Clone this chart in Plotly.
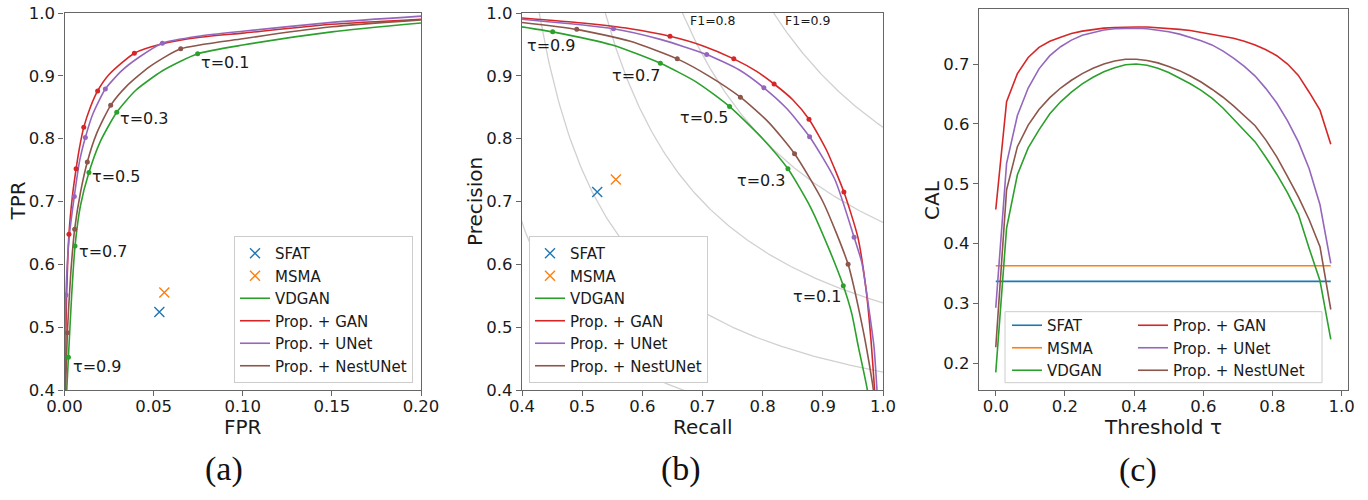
import plotly.graph_objects as go

W, H = 1368, 500

C_SFAT = "#1f77b4"
C_MSMA = "#ff7f0e"
C_VDGAN = "#2ca02c"
C_GAN = "#d62728"
C_UNET = "#9467bd"
C_NEST = "#8c564b"

names = ["SFAT", "MSMA", "VDGAN", "Prop. + GAN", "Prop. + UNet", "Prop. + NestUNet"]

# ---------------- (a) ROC ----------------
roc_gan_fpr = [0, 0.0010, 0.0025, 0.0045, 0.0065, 0.0085, 0.0108, 0.0145, 0.0186, 0.025, 0.0392, 0.055, 0.075, 0.10, 0.15, 0.20]
roc_gan_tpr = [0.36, 0.53, 0.648, 0.71, 0.752, 0.787, 0.818, 0.850, 0.876, 0.902, 0.936, 0.951, 0.961, 0.968, 0.982, 0.990]
roc_unet_fpr = [0, 0.0008, 0.0025, 0.0055, 0.0085, 0.0117, 0.016, 0.0229, 0.032, 0.042, 0.0549, 0.075, 0.10, 0.15, 0.20]
roc_unet_tpr = [0.42, 0.551, 0.64, 0.708, 0.765, 0.802, 0.840, 0.879, 0.908, 0.930, 0.952, 0.963, 0.971, 0.985, 0.995]
roc_nest_fpr = [0, 0.0016, 0.0035, 0.0057, 0.009, 0.0128, 0.018, 0.0259, 0.035, 0.048, 0.0652, 0.10, 0.15, 0.20]
roc_nest_tpr = [0.35, 0.491, 0.585, 0.656, 0.715, 0.763, 0.808, 0.853, 0.884, 0.915, 0.943, 0.959, 0.978, 0.989]
roc_vdgan_fpr = [0, 0.0022, 0.004, 0.0059, 0.009, 0.0137, 0.02, 0.0293, 0.04, 0.055, 0.0747, 0.10, 0.15, 0.20]
roc_vdgan_tpr = [0.33, 0.452, 0.55, 0.629, 0.694, 0.746, 0.795, 0.842, 0.877, 0.908, 0.935, 0.949, 0.970, 0.984]

# threshold markers (tau = 0.9, 0.7, 0.5, 0.3, 0.1)
mk_gan_fpr = [0.0025, 0.0065, 0.0108, 0.0186, 0.0392]
mk_gan_tpr = [0.648, 0.752, 0.818, 0.876, 0.936]
mk_unet_fpr = [0.0008, 0.0055, 0.0117, 0.0229, 0.0549]
mk_unet_tpr = [0.551, 0.708, 0.802, 0.879, 0.952]
mk_nest_fpr = [0.0016, 0.0057, 0.0128, 0.0259, 0.0652]
mk_nest_tpr = [0.491, 0.656, 0.763, 0.853, 0.943]
mk_vdgan_fpr = [0.0022, 0.0059, 0.0137, 0.0293, 0.0747]
mk_vdgan_tpr = [0.452, 0.629, 0.746, 0.842, 0.935]

sfat_fpr, sfat_tpr = 0.0532, 0.524
msma_fpr, msma_tpr = 0.056, 0.555

roc_tau_text = ["τ=0.1", "τ=0.3", "τ=0.5", "τ=0.7", "τ=0.9"]
roc_tau_x = [0.090, 0.0448, 0.029, 0.0216, 0.018]
roc_tau_y = [0.922, 0.832, 0.740, 0.620, 0.438]

# ---------------- (b) PR ----------------
pr_gan_rec = [0.40, 0.50, 0.58, 0.646, 0.70, 0.752, 0.79, 0.819, 0.85, 0.877, 0.906, 0.935, 0.958, 0.972, 0.980, 0.986, 0.990]
pr_gan_pre = [0.992, 0.984, 0.975, 0.963, 0.948, 0.927, 0.907, 0.887, 0.862, 0.831, 0.782, 0.715, 0.644, 0.559, 0.480, 0.40, 0.33]
pr_unet_rec = [0.40, 0.552, 0.63, 0.707, 0.76, 0.802, 0.84, 0.878, 0.92, 0.952, 0.965, 0.976, 0.985, 0.990, 0.994]
pr_unet_pre = [0.990, 0.975, 0.958, 0.934, 0.910, 0.881, 0.848, 0.803, 0.735, 0.643, 0.602, 0.533, 0.469, 0.40, 0.33]
pr_nest_rec = [0.40, 0.491, 0.58, 0.658, 0.71, 0.763, 0.81, 0.853, 0.90, 0.942, 0.967, 0.978, 0.984, 0.989]
pr_nest_pre = [0.985, 0.974, 0.955, 0.927, 0.900, 0.866, 0.826, 0.776, 0.700, 0.600, 0.495, 0.437, 0.40, 0.33]
pr_vdgan_rec = [0.40, 0.451, 0.55, 0.630, 0.69, 0.745, 0.80, 0.842, 0.88, 0.91, 0.934, 0.948, 0.959, 0.974, 0.980]
pr_vdgan_pre = [0.978, 0.970, 0.949, 0.920, 0.890, 0.851, 0.800, 0.752, 0.690, 0.625, 0.566, 0.522, 0.469, 0.40, 0.35]

pmk_gan_rec = [0.646, 0.752, 0.819, 0.877, 0.935]
pmk_gan_pre = [0.963, 0.927, 0.887, 0.831, 0.715]
pmk_unet_rec = [0.552, 0.707, 0.802, 0.878, 0.952]
pmk_unet_pre = [0.975, 0.934, 0.881, 0.803, 0.643]
pmk_nest_rec = [0.491, 0.658, 0.763, 0.853, 0.942]
pmk_nest_pre = [0.974, 0.927, 0.866, 0.776, 0.600]
pmk_vdgan_rec = [0.451, 0.630, 0.745, 0.842, 0.934]
pmk_vdgan_pre = [0.970, 0.920, 0.851, 0.752, 0.566]

sfat_rec, sfat_pre = 0.525, 0.715
msma_rec, msma_pre = 0.556, 0.735

pr_tau_text = ["τ=0.9", "τ=0.7", "τ=0.5", "τ=0.3", "τ=0.1"]
pr_tau_x = [0.448, 0.589, 0.703, 0.797, 0.891]
pr_tau_y = [0.949, 0.900, 0.834, 0.734, 0.549]

f1_levels = [0.5, 0.6, 0.7, 0.8, 0.9]
f1_label_text = ["F1=0.8", "F1=0.9"]
f1_label_x = [0.717, 0.876]
f1_label_y = [0.988, 0.988]

# ---------------- (c) CAL ----------------
tau = [0.0, 0.03125, 0.0625, 0.09375, 0.125, 0.15625, 0.1875, 0.21875, 0.25, 0.28125,
       0.3125, 0.34375, 0.375, 0.40625, 0.4375, 0.46875, 0.5, 0.53125, 0.5625, 0.59375,
       0.625, 0.65625, 0.6875, 0.71875, 0.75, 0.78125, 0.8125, 0.84375, 0.875, 0.90625,
       0.9375, 0.96875]
cal_gan = [0.457, 0.637, 0.684, 0.711, 0.728, 0.738, 0.745, 0.751, 0.755, 0.758,
           0.760, 0.761, 0.762, 0.762, 0.762, 0.761, 0.760, 0.758, 0.756, 0.753,
           0.750, 0.747, 0.743, 0.738, 0.732, 0.724, 0.714, 0.700, 0.681, 0.653,
           0.623, 0.566]
cal_unet = [0.293, 0.534, 0.614, 0.660, 0.692, 0.714, 0.729, 0.740, 0.748, 0.753,
            0.757, 0.759, 0.760, 0.760, 0.759, 0.757, 0.754, 0.750, 0.745, 0.739,
            0.732, 0.722, 0.710, 0.696, 0.680, 0.659, 0.635, 0.605, 0.570, 0.525,
            0.465, 0.367]
cal_nest = [0.227, 0.490, 0.562, 0.598, 0.624, 0.644, 0.660, 0.673, 0.684, 0.693,
            0.700, 0.705, 0.708, 0.708, 0.706, 0.702, 0.696, 0.689, 0.680, 0.670,
            0.658, 0.645, 0.630, 0.614, 0.597, 0.573, 0.545, 0.512, 0.478, 0.440,
            0.395, 0.290]
cal_vdgan = [0.185, 0.426, 0.515, 0.560, 0.590, 0.617, 0.637, 0.653, 0.667, 0.678,
             0.687, 0.694, 0.699, 0.700, 0.698, 0.693, 0.686, 0.677, 0.667, 0.656,
             0.643, 0.627, 0.608, 0.590, 0.570, 0.544, 0.516, 0.485, 0.449, 0.392,
             0.338, 0.240]
cal_sfat = 0.337
cal_msma = 0.363

# ---------------- figure ----------------
fig = go.Figure()
LW = 1.6


def line(x, y, color, name, xa, ya, legend, show, shape="spline"):
    fig.add_trace(go.Scatter(x=x, y=y, mode="lines", name=name,
                             line=dict(color=color, width=LW, shape=shape, smoothing=0.6),
                             xaxis=xa, yaxis=ya, legend=legend, showlegend=show,
                             hoverinfo="skip"))


def dots(x, y, color, xa, ya):
    fig.add_trace(go.Scatter(x=x, y=y, mode="markers", marker=dict(color=color, size=5),
                             xaxis=xa, yaxis=ya, showlegend=False, hoverinfo="skip"))


def cross(x, y, color, name, xa, ya, legend):
    fig.add_trace(go.Scatter(x=[x], y=[y], mode="markers", name=name,
                             marker=dict(symbol="x-thin-open", size=10, color=color,
                                         line=dict(color=color, width=1.4)),
                             xaxis=xa, yaxis=ya, legend=legend, hoverinfo="skip"))


# iso-F1 curves (panel b)
for f in f1_levels:
    rr = [f / (2 - f) + i * (1 - f / (2 - f)) / 200 for i in range(201)]
    pp = [f * r / (2 * r - f) for r in rr]
    fig.add_trace(go.Scatter(x=rr, y=pp, mode="lines", line=dict(color="rgba(170,170,170,0.55)", width=1.3),
                             xaxis="x2", yaxis="y2", showlegend=False, hoverinfo="skip"))

# panel a
cross(sfat_fpr, sfat_tpr, C_SFAT, names[0], "x", "y", "legend")
cross(msma_fpr, msma_tpr, C_MSMA, names[1], "x", "y", "legend")
line(roc_vdgan_fpr, roc_vdgan_tpr, C_VDGAN, names[2], "x", "y", "legend", True)
line(roc_gan_fpr, roc_gan_tpr, C_GAN, names[3], "x", "y", "legend", True)
line(roc_unet_fpr, roc_unet_tpr, C_UNET, names[4], "x", "y", "legend", True)
line(roc_nest_fpr, roc_nest_tpr, C_NEST, names[5], "x", "y", "legend", True)
dots(mk_vdgan_fpr, mk_vdgan_tpr, C_VDGAN, "x", "y")
dots(mk_gan_fpr, mk_gan_tpr, C_GAN, "x", "y")
dots(mk_unet_fpr, mk_unet_tpr, C_UNET, "x", "y")
dots(mk_nest_fpr, mk_nest_tpr, C_NEST, "x", "y")

# panel b
cross(sfat_rec, sfat_pre, C_SFAT, names[0], "x2", "y2", "legend2")
cross(msma_rec, msma_pre, C_MSMA, names[1], "x2", "y2", "legend2")
line(pr_vdgan_rec, pr_vdgan_pre, C_VDGAN, names[2], "x2", "y2", "legend2", True)
line(pr_gan_rec, pr_gan_pre, C_GAN, names[3], "x2", "y2", "legend2", True)
line(pr_unet_rec, pr_unet_pre, C_UNET, names[4], "x2", "y2", "legend2", True)
line(pr_nest_rec, pr_nest_pre, C_NEST, names[5], "x2", "y2", "legend2", True)
dots(pmk_vdgan_rec, pmk_vdgan_pre, C_VDGAN, "x2", "y2")
dots(pmk_gan_rec, pmk_gan_pre, C_GAN, "x2", "y2")
dots(pmk_unet_rec, pmk_unet_pre, C_UNET, "x2", "y2")
dots(pmk_nest_rec, pmk_nest_pre, C_NEST, "x2", "y2")

# panel c
line([tau[0], tau[-1]], [cal_sfat, cal_sfat], C_SFAT, names[0], "x3", "y3", "legend3", True, "linear")
line([tau[0], tau[-1]], [cal_msma, cal_msma], C_MSMA, names[1], "x3", "y3", "legend3", True, "linear")
line(tau, cal_vdgan, C_VDGAN, names[2], "x3", "y3", "legend3", True, "linear")
line(tau, cal_gan, C_GAN, names[3], "x3", "y3", "legend4", True, "linear")
line(tau, cal_unet, C_UNET, names[4], "x3", "y3", "legend4", True, "linear")
line(tau, cal_nest, C_NEST, names[5], "x3", "y3", "legend4", True, "linear")

TXT = "#1a1a1a"
FONT = "DejaVu Sans"
AX = "#666666"


def px_x(p):
    return p / W


def px_y(p):
    return 1 - p / H


def axis(domain, rng, dtick, fmt, anchor, standoff):
    return dict(domain=domain, range=rng, dtick=dtick, tickformat=fmt, anchor=anchor,
                automargin=False, ticklabeloverflow="allow", ticklabelstandoff=standoff,
                showline=True, mirror=True, linecolor=AX, linewidth=1.3,
                ticks="outside", ticklen=5, tickwidth=1.2, tickcolor=AX,
                showgrid=False, zeroline=False, tickfont=dict(size=16.5, color=TXT, family=FONT))


LEGFONT = dict(size=15, color=TXT, family=FONT)
ydom = [px_y(390), px_y(13)]
fig.update_layout(
    width=W, height=H, margin=dict(l=0, r=0, t=0, b=0, pad=0, autoexpand=False),
    paper_bgcolor="white", plot_bgcolor="white",
    font=dict(family=FONT, color=TXT),
    xaxis=axis([px_x(64.5), px_x(421)], [0, 0.2], 0.05, ".2f", "y", -4),
    yaxis=axis(ydom, [0.4, 1.0], 0.1, ".1f", "x", 0),
    xaxis2=axis([px_x(522), px_x(883)], [0.4, 1.0], 0.1, ".1f", "y2", -4),
    yaxis2=axis(ydom, [0.4, 1.0], 0.1, ".1f", "x2", 0),
    xaxis3=axis([px_x(979), px_x(1348)], [-0.0485, 1.0185], 0.2, ".1f", "y3", -4),
    yaxis3=axis([px_y(390), px_y(9)], [0.1555, 0.792], 0.1, ".1f", "x3", 0),
    legend=dict(x=px_x(413), y=px_y(383), xanchor="right", yanchor="bottom",
                bgcolor="white", bordercolor="#cccccc", borderwidth=1,
                font=LEGFONT, itemwidth=30, tracegroupgap=0),
    legend2=dict(x=px_x(529), y=px_y(383), xanchor="left", yanchor="bottom",
                 bgcolor="white", bordercolor="#cccccc", borderwidth=1,
                 font=LEGFONT, itemwidth=30, tracegroupgap=0),
    legend3=dict(x=px_x(1007), y=px_y(309), xanchor="left", yanchor="top",
                 bgcolor="rgba(0,0,0,0)", borderwidth=0,
                 font=LEGFONT, itemwidth=30),
    legend4=dict(x=px_x(1133), y=px_y(309), xanchor="left", yanchor="top",
                 bgcolor="rgba(0,0,0,0)", borderwidth=0,
                 font=LEGFONT, itemwidth=30),
    shapes=[dict(type="rect", xref="paper", yref="paper",
                 x0=px_x(1005), x1=px_x(1322), y0=px_y(382.7), y1=px_y(311.7),
                 fillcolor="white", line=dict(color="#cccccc", width=1), layer="above")],
)

ann = []
for t, x, y in zip(roc_tau_text, roc_tau_x, roc_tau_y):
    ann.append(dict(text=t, x=x, y=y, xref="x", yref="y", showarrow=False,
                    font=dict(size=16, color=TXT, family=FONT)))
for t, x, y in zip(pr_tau_text, pr_tau_x, pr_tau_y):
    ann.append(dict(text=t, x=x, y=y, xref="x2", yref="y2", showarrow=False,
                    font=dict(size=16, color=TXT, family=FONT)))
for t, x, y in zip(f1_label_text, f1_label_x, f1_label_y):
    ann.append(dict(text=t, x=x, y=y, xref="x2", yref="y2", showarrow=False,
                    font=dict(size=12.5, color=TXT, family=FONT)))

titles = [("TPR", 17, 201.5, -90), ("FPR", 243, 427, 0),
          ("Precision", 475, 202, -90), ("Recall", 702.5, 427, 0),
          ("CAL", 932, 200, -90), ("Threshold τ", 1163, 427, 0)]
for t, x, y, a in titles:
    ann.append(dict(text=t, x=px_x(x), y=px_y(y), xref="paper", yref="paper", showarrow=False,
                    textangle=a, xanchor="center", yanchor="middle",
                    font=dict(size=20, color=TXT, family=FONT)))
for t, x, y in [("(a)", 223.5, 469), ("(b)", 681, 469), ("(c)", 1138, 470)]:
    ann.append(dict(text=t, x=px_x(x), y=px_y(y), xref="paper", yref="paper", showarrow=False,
                    xanchor="center", yanchor="middle",
                    font=dict(size=34, color="#111111", family="Liberation Serif")))
fig.update_layout(annotations=ann)

# remove the browser's default 8 px page margin so the figure sits at the window origin
fig.write_html("out.html", config={"displayModeBar": False},
               post_script="document.body.style.margin='0px';")
